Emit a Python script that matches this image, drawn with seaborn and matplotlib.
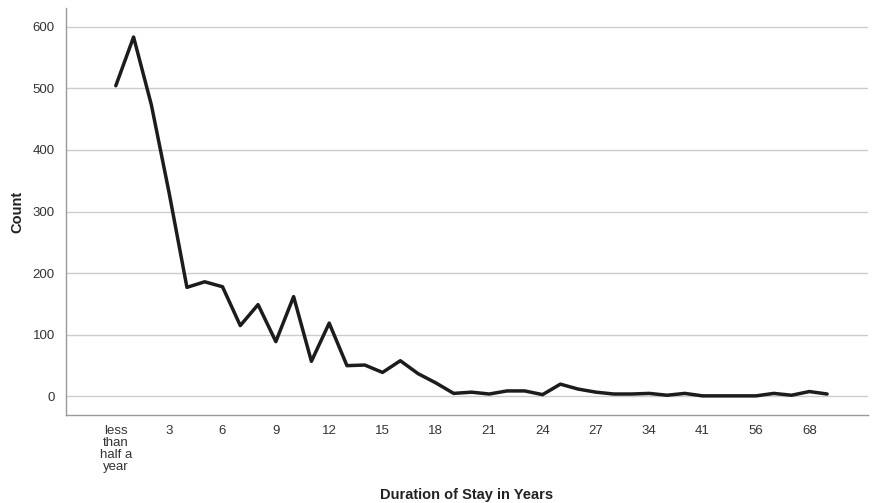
import pandas as pd
import matplotlib.pyplot as plt
import seaborn as sns

# categories along the x axis (only every third label is printed, as in the source)
categories = ["less\nthan\nhalf a\nyear", "1", "2", "3", "4", "5", "6", "7", "8", "9",
              "10", "11", "12", "13", "14", "15", "16", "17", "18", "19",
              "20", "21", "22", "23", "24", "25", "26", "27", "29", "31",
              "34", "36", "38", "41", "45", "50", "56", "60", "65", "68", "70"]
counts = [504, 583, 473, 330, 177, 186, 178, 115, 149, 89,
          162, 57, 119, 50, 51, 39, 58, 37, 22, 5,
          7, 4, 9, 9, 3, 20, 12, 7, 4, 4,
          5, 2, 5, 1, 1, 1, 1, 5, 2, 8, 4]

df = pd.DataFrame({"Duration": categories, "Count": counts})
df["pos"] = range(len(df))

sns.set_theme(style="white")
plt.rcParams["font.family"] = ["Liberation Sans", "DejaVu Sans"]

fig = plt.figure(figsize=(8.72, 5.03), dpi=100)
ax = fig.add_axes([0.0757, 0.175, 0.9197, 0.809])

sns.lineplot(data=df, x="pos", y="Count", ax=ax, color="#1c1c1c", linewidth=2.5)

ax.set_xlim(-2.8, 42.3)
ax.set_ylim(-30, 630)
ax.set_yticks(range(0, 601, 100))
shown = list(range(0, len(categories), 3))
ax.set_xticks(shown)
ax.set_xticklabels([categories[i] for i in shown], linespacing=1.0)
ax.tick_params(axis="both", length=0, labelsize=9.5, labelcolor="#333333")
ax.tick_params(axis="x", pad=7)
ax.tick_params(axis="y", pad=8)

ax.yaxis.grid(True, color="#cccccc", linewidth=1.0)
ax.xaxis.grid(False)
for side in ["top", "right"]:
    ax.spines[side].set_visible(False)
for side in ["left", "bottom"]:
    ax.spines[side].set_color("#999999")
    ax.spines[side].set_linewidth(1.0)

ax.set_xlabel("Duration of Stay in Years", fontsize=10.5, fontweight="bold", color="#222222", labelpad=11)
ax.set_ylabel("Count", fontsize=10.5, fontweight="bold", color="#222222", labelpad=6)

fig.savefig("out.png", dpi=100)
